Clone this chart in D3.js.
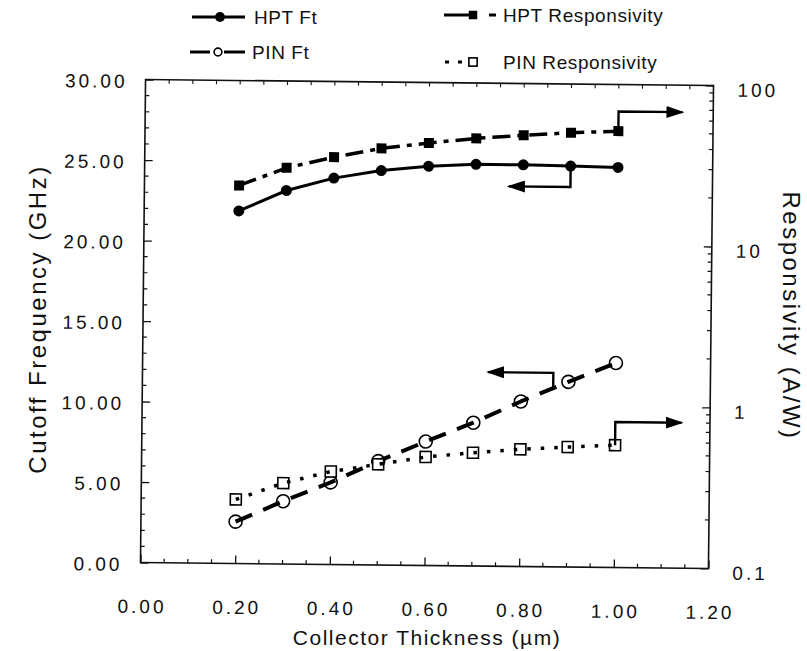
<!DOCTYPE html>
<html>
<head>
<meta charset="utf-8">
<script src="https://cdn.jsdelivr.net/npm/d3@7"></script>
<style>
  body { margin: 0; background: #fff; }
  svg { display: block; }
  text { font-family: "Liberation Sans", Arial, Helvetica, sans-serif; fill: #111; }
</style>
</head>
<body>
<svg id="chart"></svg>
<script>
// data
var thickness = [0.2, 0.3, 0.4, 0.5, 0.6, 0.7, 0.8, 0.9, 1.0];
var hptFt = [21.9, 23.2, 24.0, 24.5, 24.8, 24.95, 24.95, 24.9, 24.85];          // GHz
var pinFt = [2.6, 3.9, 5.1, 6.45, 7.7, 8.9, 10.25, 11.5, 12.7];                 // GHz
var hptResp = [22.3, 28.9, 33.9, 38.7, 42.1, 45.3, 47.7, 49.8, 51.3];           // A/W
var pinResp = [0.25, 0.318, 0.378, 0.422, 0.472, 0.505, 0.534, 0.556, 0.575];  // A/W

var xTickLabels = ["0.00", "0.20", "0.40", "0.60", "0.80", "1.00", "1.20"];
var leftTickLabels = ["0.00", "5.00", "10.00", "15.00", "20.00", "25.00", "30.00"];
var rightTickLabels = ["0.1", "1", "10", "100"];

// annotation arrows, in data units: [x, y] ... ; axis says which scale
var arrows = [
  { axis: "right", pts: [[1.0, 51.3], [1.0, 68], [1.135, 68]] },
  { axis: "left", pts: [[0.9, 24.9], [0.9, 23.6], [0.77, 23.6]] },
  { axis: "left", pts: [[0.868, 11.0], [0.868, 12.05], [0.73, 12.05]] },
  { axis: "right", pts: [[1.0, 0.575], [1.0, 0.8], [1.14, 0.8]] }
];

var width = 807, height = 651;
var plot = { left: 143, right: 711, top: 82.5, bottom: 565.5 };

var svg = d3.select("#chart").attr("width", width).attr("height", height);

var defs = svg.append("defs");
defs.append("marker")
  .attr("id", "head")
  .attr("viewBox", "0 0 18 12")
  .attr("refX", 16).attr("refY", 6)
  .attr("markerWidth", 18).attr("markerHeight", 12)
  .attr("markerUnits", "userSpaceOnUse")
  .attr("orient", "auto")
  .append("path").attr("d", "M0,0 L18,6 L0,12 Z").attr("fill", "#000");

// scales
var x = d3.scaleLinear().domain([0, 1.2]).range([plot.left, plot.right]);
var yL = d3.scaleLinear().domain([0, 30]).range([plot.bottom, plot.top]);
var yR = d3.scaleLog().domain([0.1, 100]).range([plot.bottom, plot.top]);

var labelFont = { size: 19, spacing: 3 };

// the scanned figure sits slightly turned on the page
var cx = (plot.left + plot.right) / 2, cy = (plot.top + plot.bottom) / 2;
var pg = svg.append("g").attr("transform", "rotate(0.6," + cx + "," + cy + ")");

// frame
pg.append("rect")
  .attr("x", plot.left).attr("y", plot.top)
  .attr("width", plot.right - plot.left).attr("height", plot.bottom - plot.top)
  .attr("fill", "none").attr("stroke", "#111").attr("stroke-width", 1.6);

// bottom axis, ticks inward
var bottomAxis = d3.axisBottom(x)
  .tickValues(d3.range(0, 7).map(function (i) { return i * 0.2; }))
  .tickSize(-8).tickPadding(37)
  .tickFormat(function (d, i) { return xTickLabels[i]; });
var gb = pg.append("g").attr("transform", "translate(0," + plot.bottom + ")").call(bottomAxis);
gb.select(".domain").remove();
gb.selectAll("line").attr("stroke", "#111").attr("stroke-width", 1.3);
gb.selectAll("text").attr("font-size", labelFont.size).attr("letter-spacing", labelFont.spacing)
  .attr("dx", labelFont.spacing / 2).attr("fill", "#111");
// minor x ticks, bottom and top
var xMinor = d3.range(1, 24).map(function (i) { return i * 0.05; }).filter(function (d) { return Math.round(d * 100) % 20 !== 0; });
pg.append("g").selectAll("line").data(xMinor).join("line")
  .attr("x1", x).attr("x2", x)
  .attr("y1", plot.bottom).attr("y2", plot.bottom - 4)
  .attr("stroke", "#111").attr("stroke-width", 1.2);
pg.append("g").selectAll("line").data(xMinor.concat([0.2, 0.4, 0.6, 0.8, 1.0])).join("line")
  .attr("x1", x).attr("x2", x)
  .attr("y1", plot.top).attr("y2", plot.top + 4)
  .attr("stroke", "#111").attr("stroke-width", 1.1);

// left axis
var leftAxis = d3.axisLeft(yL)
  .tickValues(d3.range(0, 35, 5))
  .tickSize(-8).tickPadding(18)
  .tickFormat(function (d, i) { return leftTickLabels[i]; });
var gl = pg.append("g").attr("transform", "translate(" + plot.left + ",0)").call(leftAxis);
gl.select(".domain").remove();
gl.selectAll("line").attr("stroke", "#111").attr("stroke-width", 1.3);
gl.selectAll("text").attr("font-size", labelFont.size).attr("letter-spacing", labelFont.spacing)
  .attr("dy", "0.42em").attr("fill", "#111");
var yMinor = d3.range(1, 30).filter(function (d) { return d % 5 !== 0; });
pg.append("g").selectAll("line").data(yMinor).join("line")
  .attr("x1", plot.left).attr("x2", plot.left + 4)
  .attr("y1", yL).attr("y2", yL)
  .attr("stroke", "#111").attr("stroke-width", 1.2);

// right axis (log)
var rightAxis = d3.axisRight(yR)
  .tickValues([0.1, 1, 10, 100])
  .tickSize(-8).tickPadding(24)
  .tickFormat(function (d, i) { return rightTickLabels[i]; });
var gr = pg.append("g").attr("transform", "translate(" + plot.right + ",0)").call(rightAxis);
gr.select(".domain").remove();
gr.selectAll("line").attr("stroke", "#111").attr("stroke-width", 1.3);
gr.selectAll("text").attr("font-size", labelFont.size).attr("letter-spacing", labelFont.spacing)
  .attr("dy", "0.55em").attr("fill", "#111");
var rMinor = [];
[0.1, 1, 10].forEach(function (dec) {
  for (var k = 2; k <= 9; k++) rMinor.push(dec * k);
});
pg.append("g").selectAll("line").data(rMinor).join("line")
  .attr("x1", plot.right).attr("x2", plot.right - 4)
  .attr("y1", yR).attr("y2", yR)
  .attr("stroke", "#111").attr("stroke-width", 1.2);

// axis titles
svg.append("text")
  .attr("transform", "translate(46,319) rotate(-90)")
  .attr("text-anchor", "middle").attr("font-size", 24).attr("letter-spacing", 2.5)
  .text("Cutoff Frequency (GHz)");
svg.append("text")
  .attr("transform", "translate(783,316) rotate(90)")
  .attr("text-anchor", "middle").attr("font-size", 24).attr("letter-spacing", 2.5)
  .text("Responsivity  (A/W)");
svg.append("text")
  .attr("x", cx).attr("y", 645)
  .attr("text-anchor", "middle").attr("font-size", 21).attr("letter-spacing", 1.5)
  .text("Collector  Thickness  (µm)");

// series
var series = [
  { name: "HPT Ft", vals: hptFt, scale: yL, dash: null, width: 3, marker: "dot" },
  { name: "HPT Responsivity", vals: hptResp, scale: yR, dash: "18,7,5,7", width: 3.5, marker: "square" },
  { name: "PIN Ft", vals: pinFt, scale: yL, dash: "18,12", width: 4, marker: "circle" },
  { name: "PIN Responsivity", vals: pinResp, scale: yR, dash: "3.5,10", width: 3.5, marker: "box" }
];

var g = pg.append("g").attr("class", "series");

function drawMarker(sel, type, mx, my, s) {
  s = s || 1;
  if (type === "dot") {
    sel.append("circle").attr("cx", mx).attr("cy", my).attr("r", 5.5 * s).attr("fill", "#000");
  } else if (type === "square") {
    sel.append("rect").attr("x", mx - 5 * s).attr("y", my - 5 * s).attr("width", 10 * s).attr("height", 10 * s).attr("fill", "#000");
  } else if (type === "circle") {
    sel.append("circle").attr("cx", mx).attr("cy", my).attr("r", 6.5 * s)
      .attr("fill", "#fff").attr("stroke", "#000").attr("stroke-width", 1.6);
  } else {
    sel.append("rect").attr("x", mx - 5.5 * s).attr("y", my - 5.5 * s).attr("width", 11 * s).attr("height", 11 * s)
      .attr("fill", "#fff").attr("stroke", "#000").attr("stroke-width", 1.6);
  }
}

series.forEach(function (s) {
  var pts = thickness.map(function (t, i) { return [t, s.vals[i]]; });
  var line = d3.line().x(function (d) { return x(d[0]); }).y(function (d) { return s.scale(d[1]); });
  // open markers under the line, filled ones on top
  if (s.marker === "circle" || s.marker === "box") {
    pts.forEach(function (d) { drawMarker(g, s.marker, x(d[0]), s.scale(d[1])); });
  }
  g.append("path").datum(pts)
    .attr("d", line)
    .attr("fill", "none").attr("stroke", "#000")
    .attr("stroke-width", s.width)
    .attr("stroke-dasharray", s.dash)
    .attr("stroke-linejoin", "round");
  if (s.marker === "dot" || s.marker === "square") {
    pts.forEach(function (d) { drawMarker(g, s.marker, x(d[0]), s.scale(d[1])); });
  }
});

// arrows pointing to the axis each curve belongs to
arrows.forEach(function (a) {
  var sc = a.axis === "left" ? yL : yR;
  var line = d3.line().x(function (d) { return x(d[0]); }).y(function (d) { return sc(d[1]); });
  pg.append("path").datum(a.pts)
    .attr("d", line)
    .attr("fill", "none").attr("stroke", "#000").attr("stroke-width", 2.4)
    .attr("marker-end", "url(#head)");
});

// legend
var legend = [
  { s: series[0], x: 192, y: 17 },
  { s: series[2], x: 190, y: 52 },
  { s: series[1], x: 444, y: 15 },
  { s: series[3], x: 444, y: 62 }
];
var lg = svg.append("g").attr("class", "legend");
legend.forEach(function (l) {
  var s = l.s;
  if (s.marker === "dot") {
    lg.append("line").attr("x1", l.x).attr("x2", l.x + 53).attr("y1", l.y).attr("y2", l.y)
      .attr("stroke", "#000").attr("stroke-width", 3);
    drawMarker(lg, "dot", l.x + 28, l.y, 0.9);
  } else if (s.marker === "circle") {
    lg.append("line").attr("x1", l.x).attr("x2", l.x + 20).attr("y1", l.y).attr("y2", l.y)
      .attr("stroke", "#000").attr("stroke-width", 3);
    lg.append("line").attr("x1", l.x + 34).attr("x2", l.x + 55).attr("y1", l.y).attr("y2", l.y)
      .attr("stroke", "#000").attr("stroke-width", 3);
    drawMarker(lg, "circle", l.x + 28, l.y, 0.6);
  } else if (s.marker === "square") {
    lg.append("line").attr("x1", l.x).attr("x2", l.x + 26).attr("y1", l.y).attr("y2", l.y)
      .attr("stroke", "#000").attr("stroke-width", 3);
    drawMarker(lg, "square", l.x + 29, l.y, 0.85);
    lg.append("line").attr("x1", l.x + 45).attr("x2", l.x + 52).attr("y1", l.y).attr("y2", l.y)
      .attr("stroke", "#000").attr("stroke-width", 3);
  } else {
    lg.append("line").attr("x1", l.x + 1).attr("x2", l.x + 22).attr("y1", l.y).attr("y2", l.y)
      .attr("stroke", "#000").attr("stroke-width", 3).attr("stroke-dasharray", "4,9");
    drawMarker(lg, "box", l.x + 29, l.y, 0.75);
  }
  lg.append("text")
    .attr("x", l.x + (s.marker === "dot" || s.marker === "circle" ? 62 : 59))
    .attr("y", l.y + 7)
    .attr("font-size", 19).attr("letter-spacing", 0.6)
    .text(s.name.replace(" Responsivity", "  Responsivity"));
});
</script>
</body>
</html>
